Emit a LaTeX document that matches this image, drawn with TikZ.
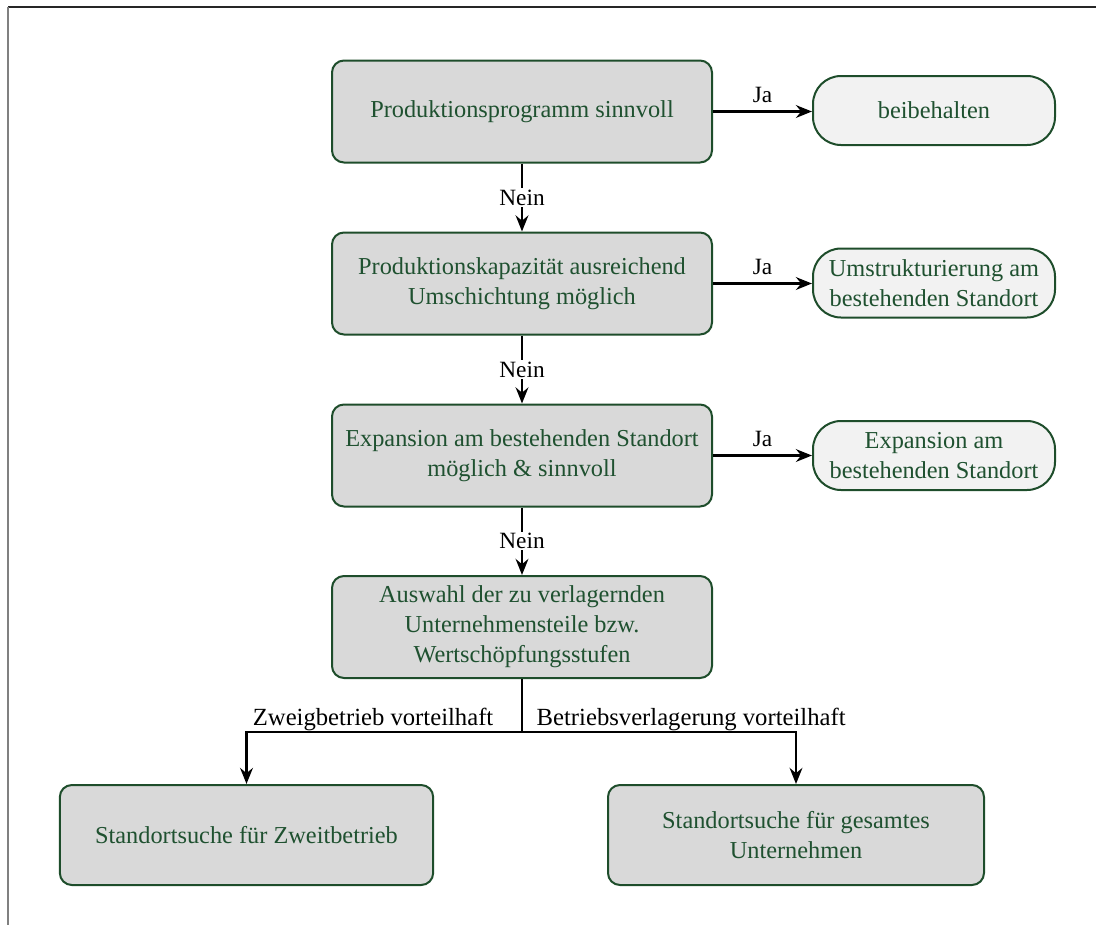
\documentclass[tikz,border=0pt]{standalone}
\usepackage{fontspec}
\setmainfont{Liberation Serif}
\usetikzlibrary{arrows.meta}
\definecolor{boxfill}{HTML}{D9D9D9}
\definecolor{termfill}{HTML}{F2F2F2}
\definecolor{dgreen}{HTML}{1E4D2B}
\definecolor{tgreen}{HTML}{1F5130}
\tikzset{
  mainbox/.style={draw=dgreen, line width=1.5pt, fill=boxfill, rounded corners=9pt,
    text=tgreen, align=center, minimum width=285pt, minimum height=76.5pt,
    font=\fontsize{18.25}{22.5}\selectfont},
  termbox/.style={draw=dgreen, line width=1.5pt, fill=termfill, rounded corners=21pt,
    text=tgreen, align=center, minimum width=181.5pt, minimum height=51.75pt,
    font=\fontsize{18.25}{22.5}\selectfont},
  conn/.style={line width=2pt, -{Stealth[length=12pt,width=9.5pt]}},
  lbl/.style={font=\fontsize{17.5}{20}\selectfont, text=black},
  brlbl/.style={font=\fontsize{18.5}{20}\selectfont, text=black},
  nein/.style={lbl, fill=white, inner sep=1pt},
}
\begin{document}
\begin{tikzpicture}[x=0.75pt, y=-0.75pt]
\useasboundingbox (0,0) rectangle (1096,925);
\draw[line width=1.8pt, black!85] (8,7) -- (1096,7);
\draw[line width=1.5pt, gray] (8,7) -- (8,925);

\node[mainbox] (b1) at (522,111.5) {Produktionsprogramm sinnvoll};
\node[mainbox] (b2) at (522,283.5) {Produktionskapazität ausreichend\\Umschichtung möglich};
\node[mainbox] (b3) at (522,455.5) {Expansion am bestehenden Standort\\möglich \& sinnvoll};
\node[mainbox] (b4) at (522,627) {Auswahl der zu verlagernden\\Unternehmensteile bzw.\\Wertschöpfungsstufen};
\node[mainbox, minimum width=280pt, minimum height=75pt] (b5) at (246.5,835) {Standortsuche für Zweitbetrieb};
\node[mainbox, minimum width=282pt, minimum height=75pt] (b6) at (796,835) {Standortsuche für gesamtes\\Unternehmen};

\node[termbox] (t1) at (934,110.5) {beibehalten};
\node[termbox] (t2) at (934,283) {Umstrukturierung am\\bestehenden Standort};
\node[termbox] (t3) at (934,455.5) {Expansion am\\bestehenden Standort};

\draw[conn] (b1.east) -- node[lbl, above=2pt] {Ja} (b1.east -| t1.west);
\draw[conn] (b2.east) -- node[lbl, above=2pt] {Ja} (b2.east -| t2.west);
\draw[conn] (b3.east) -- node[lbl, above=2pt] {Ja} (b3.east -| t3.west);

\draw[conn] (b1.south) -- node[nein] {Nein} (b2.north);
\draw[conn] (b2.south) -- node[nein] {Nein} (b3.north);
\draw[conn] (b3.south) -- node[nein] {Nein} (b4.north);

\coordinate (sp) at (522,732);
\draw[line width=2pt] (b4.south) -- (sp);
\draw[conn] (sp) -| (b5.north);
\draw[conn] (sp) -| (b6.north);
\node[brlbl, anchor=base east] (lz) at (498,725) {Zweigbetrieb vorteilhaft};
\node[brlbl, anchor=base west] (lb) at (532,725) {Betriebsverlagerung vorteilhaft};
\end{tikzpicture}
\end{document}
